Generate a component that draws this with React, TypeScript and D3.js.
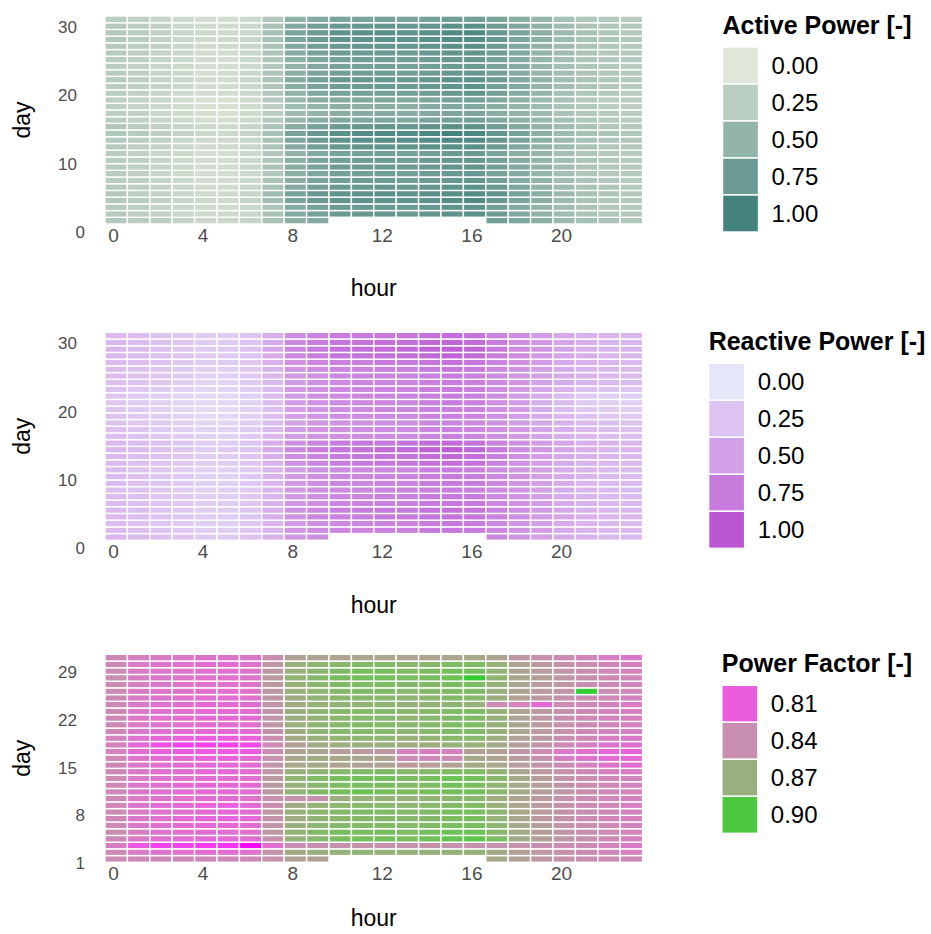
import React from "react";
import * as d3 from "d3";

// Hour of day (columns) and day of month (rows)
const HOURS: number[] = [0, 1, 2, 3, 4, 5, 6, 7, 8, 9, 10, 11, 12, 13, 14, 15, 16, 17, 18, 19, 20, 21, 22, 23];
const DAYS: number[] = [1, 2, 3, 4, 5, 6, 7, 8, 9, 10, 11, 12, 13, 14, 15, 16, 17, 18, 19, 20, 21, 22, 23, 24, 25, 26, 27, 28, 29, 30, 31];

const HOUR_TICKS = [0, 4, 8, 12, 16, 20];
const DAY_TICKS_POWER = [0, 10, 20, 30];
const DAY_TICKS_PF = [1, 8, 15, 22, 29];
const BREAKS_POWER = [0, 0.25, 0.5, 0.75, 1];
const BREAKS_PF = [0.81, 0.84, 0.87, 0.9];

const _ = null;

// Normalised active power, one row per day (day 1 first), 24 hourly values
const ACTIVE: (number | null)[][] = [
  [.30,.26,.22,.18,.15,.14,.18,.36,.55,.60,_,_,_,_,_,_,_,.72,.64,.55,.45,.38,.34,.31],
  [.28,.24,.20,.16,.12,.12,.17,.35,.60,.70,.76,.78,.80,.78,.80,.84,.86,.74,.62,.52,.42,.35,.31,.29],
  [.27,.23,.19,.15,.11,.11,.16,.33,.58,.68,.74,.76,.77,.75,.78,.82,.83,.72,.61,.50,.41,.34,.30,.28],
  [.30,.26,.21,.17,.13,.12,.18,.40,.66,.76,.82,.84,.85,.83,.85,.90,.92,.80,.66,.55,.44,.36,.32,.30],
  [.29,.25,.20,.16,.12,.12,.17,.42,.68,.78,.83,.85,.86,.84,.86,.88,.90,.82,.68,.56,.45,.37,.33,.30],
  [.27,.23,.19,.15,.11,.10,.16,.36,.60,.70,.77,.79,.80,.78,.80,.84,.85,.76,.64,.52,.42,.34,.31,.28],
  [.26,.22,.18,.14,.10,.10,.15,.33,.56,.66,.72,.74,.75,.73,.76,.80,.81,.71,.60,.50,.40,.33,.30,.27],
  [.25,.21,.17,.13,.10,.09,.14,.31,.54,.64,.70,.72,.73,.71,.74,.78,.79,.69,.59,.49,.39,.32,.29,.27],
  [.26,.22,.18,.14,.10,.10,.15,.34,.58,.68,.74,.76,.76,.75,.77,.81,.82,.72,.61,.51,.41,.33,.30,.28],
  [.26,.22,.18,.14,.10,.10,.15,.32,.56,.66,.72,.74,.75,.73,.76,.79,.80,.70,.60,.50,.40,.33,.30,.27],
  [.25,.21,.17,.13,.09,.09,.14,.30,.52,.62,.68,.70,.71,.69,.72,.76,.77,.67,.57,.48,.39,.32,.29,.27],
  [.27,.23,.19,.15,.11,.11,.16,.34,.60,.72,.79,.82,.83,.82,.85,.88,.87,.76,.63,.52,.42,.35,.31,.29],
  [.29,.25,.20,.16,.12,.12,.17,.36,.64,.76,.84,.86,.88,.87,.90,.94,.92,.80,.66,.55,.44,.36,.32,.30],
  [.31,.27,.22,.18,.14,.13,.19,.38,.66,.78,.86,.90,.92,.91,.94,1.0,.95,.82,.68,.56,.45,.37,.33,.31],
  [.30,.26,.21,.17,.13,.12,.18,.35,.60,.70,.77,.80,.81,.80,.83,.86,.85,.74,.62,.52,.42,.35,.31,.29],
  [.25,.21,.17,.13,.09,.08,.13,.28,.48,.57,.62,.64,.65,.63,.66,.70,.71,.62,.54,.46,.38,.31,.28,.26],
  [.24,.20,.16,.12,.08,.07,.12,.26,.44,.52,.57,.59,.60,.58,.61,.65,.66,.58,.51,.44,.36,.30,.27,.25],
  [.22,.18,.14,.10,.06,.06,.11,.24,.42,.50,.55,.56,.57,.55,.58,.62,.63,.56,.49,.42,.34,.28,.25,.23],
  [.23,.19,.15,.11,.07,.07,.12,.27,.46,.55,.60,.62,.63,.61,.64,.68,.69,.61,.53,.45,.36,.29,.26,.24],
  [.25,.21,.17,.13,.09,.09,.14,.30,.52,.62,.68,.70,.71,.70,.73,.78,.82,.70,.59,.49,.39,.32,.29,.26],
  [.26,.22,.18,.14,.10,.10,.15,.33,.57,.67,.74,.76,.77,.75,.78,.82,.85,.72,.61,.50,.40,.33,.30,.28],
  [.27,.23,.19,.15,.11,.10,.16,.34,.60,.70,.77,.79,.79,.77,.80,.84,.84,.74,.62,.51,.41,.34,.31,.28],
  [.26,.22,.18,.14,.10,.10,.15,.32,.56,.66,.72,.74,.75,.73,.76,.80,.80,.70,.60,.50,.40,.33,.30,.27],
  [.25,.21,.17,.13,.09,.09,.14,.30,.52,.62,.68,.70,.71,.69,.72,.76,.76,.67,.58,.48,.39,.32,.29,.26],
  [.26,.22,.18,.14,.10,.09,.15,.31,.54,.64,.70,.72,.73,.71,.74,.78,.78,.69,.59,.49,.39,.32,.29,.27],
  [.27,.23,.19,.15,.11,.10,.15,.33,.58,.68,.74,.76,.77,.75,.78,.82,.82,.72,.61,.50,.40,.33,.30,.28],
  [.28,.24,.20,.16,.12,.11,.16,.35,.62,.72,.78,.80,.81,.79,.82,.86,.86,.75,.63,.52,.42,.34,.31,.29],
  [.29,.25,.20,.16,.12,.12,.17,.37,.65,.75,.82,.84,.85,.83,.86,.90,.90,.78,.65,.54,.43,.35,.32,.30],
  [.29,.25,.21,.17,.13,.12,.17,.38,.66,.76,.83,.86,.87,.85,.88,.92,.93,.80,.66,.55,.44,.36,.32,.30],
  [.28,.24,.20,.16,.12,.11,.16,.36,.62,.72,.78,.80,.81,.79,.82,.86,.86,.75,.63,.52,.42,.34,.31,.29],
  [.25,.21,.17,.13,.10,.09,.14,.30,.52,.60,.65,.67,.68,.66,.69,.72,.72,.65,.57,.48,.38,.31,.28,.26],
];

// Normalised reactive power, same layout
const REACTIVE: (number | null)[][] = [
  [.34,.31,.28,.24,.21,.21,.26,.38,.56,.62,_,_,_,_,_,_,_,.66,.58,.50,.42,.37,.34,.32],
  [.31,.28,.25,.21,.18,.18,.23,.36,.57,.64,.68,.70,.72,.72,.76,.78,.76,.67,.59,.51,.43,.37,.34,.32],
  [.30,.27,.24,.20,.17,.17,.22,.35,.55,.62,.66,.68,.70,.70,.74,.76,.74,.66,.58,.50,.42,.36,.33,.31],
  [.32,.29,.26,.22,.19,.19,.24,.39,.60,.67,.71,.73,.75,.75,.79,.81,.79,.70,.61,.53,.44,.38,.35,.33],
  [.32,.29,.26,.22,.19,.18,.24,.40,.61,.68,.72,.74,.76,.76,.80,.82,.80,.71,.62,.53,.44,.38,.35,.33],
  [.31,.28,.25,.21,.18,.18,.23,.37,.58,.65,.69,.71,.73,.73,.77,.79,.77,.68,.60,.52,.43,.37,.34,.32],
  [.30,.27,.24,.20,.17,.17,.22,.35,.55,.62,.66,.68,.70,.70,.74,.76,.74,.66,.58,.50,.42,.36,.33,.31],
  [.29,.26,.23,.19,.16,.16,.21,.34,.54,.61,.65,.67,.69,.69,.72,.74,.73,.65,.57,.49,.41,.35,.32,.30],
  [.30,.27,.24,.20,.17,.17,.22,.36,.56,.63,.67,.69,.71,.71,.75,.77,.75,.67,.58,.50,.42,.36,.33,.31],
  [.30,.27,.24,.20,.17,.16,.22,.35,.55,.62,.66,.68,.70,.70,.74,.76,.74,.66,.58,.50,.42,.36,.33,.31],
  [.29,.26,.23,.19,.16,.16,.21,.34,.53,.60,.64,.66,.68,.68,.72,.74,.72,.64,.57,.49,.41,.35,.32,.30],
  [.31,.28,.25,.21,.18,.18,.23,.38,.60,.68,.73,.75,.77,.78,.82,.84,.81,.71,.61,.52,.43,.37,.34,.32],
  [.32,.29,.26,.22,.19,.19,.24,.40,.63,.71,.76,.78,.80,.81,.86,.88,.84,.73,.62,.53,.44,.38,.35,.33],
  [.33,.30,.27,.23,.20,.20,.25,.42,.66,.74,.79,.82,.85,.86,.92,.95,.88,.76,.64,.55,.46,.39,.36,.34],
  [.32,.29,.26,.22,.19,.19,.24,.39,.62,.70,.75,.77,.79,.80,.85,.86,.82,.72,.61,.52,.44,.38,.35,.33],
  [.28,.25,.22,.18,.15,.15,.20,.32,.52,.59,.62,.64,.66,.66,.70,.72,.70,.62,.55,.47,.39,.33,.30,.28],
  [.27,.24,.21,.17,.14,.14,.19,.31,.50,.57,.60,.62,.64,.64,.68,.70,.68,.61,.54,.46,.38,.32,.29,.27],
  [.26,.23,.20,.16,.13,.13,.18,.30,.49,.56,.59,.61,.63,.63,.67,.69,.67,.60,.53,.45,.37,.31,.28,.26],
  [.24,.21,.18,.14,.11,.11,.16,.29,.50,.58,.62,.64,.66,.66,.70,.72,.70,.61,.52,.42,.32,.25,.22,.21],
  [.23,.20,.17,.13,.10,.10,.15,.29,.51,.59,.63,.65,.67,.67,.71,.73,.71,.62,.52,.41,.30,.22,.19,.18],
  [.22,.19,.16,.12,.09,.09,.14,.29,.52,.60,.64,.66,.68,.68,.72,.74,.72,.62,.52,.40,.29,.20,.17,.16],
  [.23,.20,.17,.13,.10,.10,.15,.30,.53,.61,.65,.67,.69,.69,.73,.75,.73,.63,.53,.41,.30,.21,.18,.17],
  [.25,.22,.19,.15,.12,.12,.17,.31,.54,.61,.65,.67,.69,.69,.73,.75,.73,.64,.55,.45,.35,.28,.25,.23],
  [.28,.25,.22,.18,.15,.15,.20,.33,.54,.61,.65,.67,.69,.69,.72,.74,.72,.65,.57,.49,.41,.35,.32,.30],
  [.29,.26,.23,.19,.16,.16,.21,.34,.55,.62,.66,.68,.70,.70,.73,.75,.73,.65,.57,.49,.41,.35,.32,.30],
  [.30,.27,.24,.20,.17,.17,.22,.36,.57,.64,.68,.70,.72,.72,.76,.78,.76,.67,.59,.51,.42,.36,.33,.31],
  [.31,.28,.25,.21,.18,.18,.23,.38,.60,.67,.71,.73,.75,.75,.79,.81,.79,.69,.60,.52,.43,.37,.34,.32],
  [.33,.30,.27,.23,.20,.20,.25,.42,.66,.74,.79,.81,.83,.84,.88,.90,.87,.75,.64,.55,.46,.39,.36,.34],
  [.34,.31,.28,.24,.21,.21,.26,.44,.68,.76,.81,.84,.86,.87,.91,.93,.89,.77,.65,.56,.47,.40,.37,.35],
  [.33,.30,.27,.23,.20,.20,.25,.42,.66,.74,.79,.81,.83,.84,.88,.90,.87,.75,.64,.55,.46,.39,.36,.34],
  [.32,.29,.26,.22,.19,.19,.24,.39,.62,.70,.74,.76,.78,.78,.82,.84,.81,.71,.62,.53,.44,.38,.35,.33],
];

// Power factor, same layout
const POWER_FACTOR: (number | null)[][] = [
  [.838,.835,.835,.836,.835,.835,.836,.842,.855,.857,_,_,_,_,_,_,_,.862,.855,.848,.843,.840,.838,.836],
  [.836,.826,.822,.820,.818,.818,.820,.845,.866,.870,.872,.874,.873,.872,.872,.873,.872,.866,.855,.848,.842,.838,.834,.828],
  [.828,.808,.800,.800,.798,.796,.790,.818,.838,.840,.842,.843,.842,.842,.843,.842,.842,.842,.842,.840,.838,.836,.832,.825],
  [.835,.824,.820,.818,.816,.816,.818,.842,.872,.880,.886,.888,.888,.886,.889,.894,.896,.885,.866,.855,.846,.840,.835,.830],
  [.840,.828,.822,.820,.818,.818,.820,.848,.875,.882,.886,.886,.887,.884,.886,.890,.890,.880,.865,.853,.845,.840,.836,.832],
  [.836,.825,.820,.818,.815,.815,.818,.845,.870,.876,.880,.882,.882,.880,.882,.886,.886,.876,.862,.852,.845,.840,.835,.830],
  [.836,.824,.820,.816,.814,.814,.816,.843,.868,.874,.878,.880,.880,.878,.880,.884,.885,.872,.860,.850,.843,.838,.834,.830],
  [.838,.826,.822,.820,.817,.816,.818,.848,.872,.877,.881,.882,.883,.880,.882,.886,.886,.876,.862,.852,.844,.840,.836,.832],
  [.834,.822,.818,.815,.812,.812,.815,.840,.866,.872,.876,.878,.878,.876,.878,.882,.883,.872,.860,.850,.843,.838,.834,.828],
  [.836,.826,.822,.820,.818,.818,.820,.842,.842,.840,.868,.872,.874,.872,.874,.878,.878,.868,.858,.850,.842,.838,.834,.830],
  [.835,.824,.820,.818,.816,.816,.818,.850,.874,.882,.888,.892,.886,.884,.886,.888,.888,.878,.864,.854,.846,.840,.836,.832],
  [.834,.823,.820,.816,.814,.814,.816,.848,.872,.880,.884,.886,.885,.882,.884,.888,.886,.876,.862,.852,.844,.838,.834,.830],
  [.838,.826,.822,.820,.818,.818,.820,.850,.875,.882,.886,.888,.887,.884,.886,.890,.888,.878,.864,.853,.845,.840,.835,.832],
  [.836,.825,.820,.818,.816,.816,.818,.846,.870,.876,.880,.882,.882,.878,.880,.884,.884,.874,.860,.850,.842,.836,.830,.826],
  [.835,.824,.820,.818,.815,.815,.817,.845,.862,.864,.858,.856,.858,.850,.852,.856,.866,.862,.852,.845,.838,.830,.822,.818],
  [.834,.822,.818,.815,.812,.812,.815,.842,.862,.866,.862,.860,.858,.836,.835,.836,.862,.858,.850,.843,.828,.822,.818,.815],
  [.832,.818,.812,.810,.808,.808,.810,.838,.858,.860,.852,.850,.850,.830,.828,.830,.856,.855,.846,.838,.825,.820,.815,.812],
  [.830,.815,.805,.800,.800,.800,.802,.835,.855,.866,.868,.870,.870,.866,.868,.872,.872,.864,.852,.844,.835,.828,.822,.818],
  [.832,.820,.815,.812,.810,.810,.812,.840,.864,.870,.874,.876,.876,.872,.874,.878,.878,.868,.856,.848,.840,.833,.828,.824],
  [.835,.824,.820,.817,.815,.815,.817,.843,.868,.874,.878,.880,.880,.876,.878,.882,.882,.872,.860,.850,.842,.836,.832,.828],
  [.836,.826,.822,.820,.818,.818,.820,.846,.870,.876,.880,.882,.882,.878,.880,.884,.884,.873,.860,.850,.842,.837,.833,.830],
  [.835,.825,.821,.818,.816,.816,.818,.845,.868,.874,.878,.880,.880,.876,.878,.882,.882,.872,.858,.848,.840,.835,.832,.828],
  [.837,.826,.822,.820,.817,.817,.819,.846,.870,.875,.879,.881,.881,.877,.879,.883,.883,.872,.858,.849,.842,.836,.832,.829],
  [.836,.825,.820,.818,.816,.816,.818,.844,.866,.872,.874,.876,.876,.872,.874,.876,.872,.838,.832,.815,.838,.834,.830,.826],
  [.837,.826,.822,.820,.818,.818,.820,.846,.868,.874,.878,.880,.880,.876,.878,.882,.880,.868,.856,.848,.842,.838,.834,.830],
  [.838,.827,.823,.821,.819,.819,.821,.848,.870,.876,.880,.882,.882,.878,.880,.884,.882,.870,.858,.850,.845,.905,.838,.834],
  [.839,.828,.824,.822,.820,.820,.822,.850,.872,.878,.882,.884,.884,.880,.882,.886,.884,.872,.860,.852,.846,.840,.836,.832],
  [.840,.828,.824,.822,.820,.820,.822,.850,.874,.880,.885,.888,.888,.884,.886,.890,.905,.876,.862,.854,.846,.840,.836,.832],
  [.838,.827,.823,.821,.819,.819,.821,.848,.872,.878,.883,.886,.886,.882,.884,.888,.888,.874,.860,.852,.845,.840,.835,.831],
  [.837,.826,.822,.820,.818,.818,.820,.846,.870,.876,.880,.882,.882,.878,.880,.884,.884,.872,.858,.850,.843,.838,.833,.829],
  [.836,.830,.826,.824,.822,.822,.824,.840,.856,.858,.858,.860,.860,.858,.858,.860,.862,.858,.848,.842,.838,.834,.828,.824],
];

const FONT = "'Liberation Sans', Arial, Helvetica, sans-serif";

// Hour axis: shared by all three heatmaps
const HOUR_PX = 22.4;
const x = d3.scaleLinear().domain([0, 24]).range([113.5, 113.5 + 24 * HOUR_PX]);
const TILE_SHIFT_X = 0.38; // tile left edge sits this far before the hour value

const DAY_PX = 6.83;
const ROW_LO = 1.13; // day value at bottom edge of first row
const ROW_HI = 31.58; // day value at top edge of last row

const measureCtx = typeof document !== "undefined" ? document.createElement("canvas").getContext("2d") : null;
function textWidth(s: string, font: string): number {
  if (!measureCtx) return s.length * 12;
  measureCtx.font = font;
  return measureCtx.measureText(s).width;
}

type PanelProps = {
  top: number; // pixel y of the top tile edge
  rows: (number | null)[][];
  color: (v: number) => string;
  dayTicks: number[];
  title: string;
  breaks: number[];
  hourTitleY: number;
};

function Heatmap({ top, rows, color, dayTicks, title, breaks, hourTitleY }: PanelProps) {
  const y = d3.scaleLinear().domain([ROW_HI, ROW_HI - 30]).range([top, top + 30 * DAY_PX]);
  const rowBand = d3
    .scaleBand<number>()
    .domain([...DAYS].reverse())
    .range([y(ROW_HI), y(ROW_LO)])
    .padding(0);
  const tileW = x(1) - x(0);
  const bottom = y(ROW_LO);
  const cx = (x(-TILE_SHIFT_X) + x(24 - TILE_SHIFT_X)) / 2;

  const titleFont = `bold 25px ${FONT}`;
  const labelFont = `24px ${FONT}`;
  const keyW = 36;
  const keyH = 37;
  const blockW = Math.max(
    textWidth(title, titleFont),
    keyW + 13 + d3.max(breaks, (b) => textWidth(b.toFixed(2), labelFont))!
  );
  const legendLeft = 817 - blockW / 2;
  const keysTop = top + 31;

  return (
    <g>
      {rows.map((row, di) =>
        row.map((v, h) =>
          v == null ? null : (
            <rect
              key={`${di}-${h}`}
              x={x(HOURS[h] - TILE_SHIFT_X)}
              y={rowBand(DAYS[di])}
              width={tileW}
              height={rowBand.bandwidth()}
              fill={color(v)}
              stroke="#ffffff"
              strokeWidth={1.4}
            />
          )
        )
      )}
      {dayTicks.map((t) => (
        <text
          key={`yt${t}`}
          x={String(t).length === 1 ? 85 : 77}
          y={y(t)}
          dy="0.36em"
          textAnchor="end"
          fontFamily={FONT}
          fontSize={17}
          fill="#4d4d4d"
        >
          {t}
        </text>
      ))}
      {HOUR_TICKS.map((t) => (
        <text
          key={`xt${t}`}
          x={x(t)}
          y={top + 219}
          dy="0.36em"
          textAnchor="middle"
          fontFamily={FONT}
          fontSize={19}
          fill="#4d4d4d"
        >
          {t}
        </text>
      ))}
      <text x={cx} y={top + hourTitleY} dy="0.36em" textAnchor="middle" fontFamily={FONT} fontSize={23} fill="#000">
        hour
      </text>
      <text
        transform={`translate(${21.5},${(top + bottom) / 2}) rotate(-90)`}
        dy="0.36em"
        textAnchor="middle"
        fontFamily={FONT}
        fontSize={23}
        fill="#000"
      >
        day
      </text>
      <text x={legendLeft} y={top + 9} dy="0.36em" fontFamily={FONT} fontSize={25} fontWeight="bold" fill="#000">
        {title}
      </text>
      {breaks.map((b, i) => (
        <g key={`lg${b}`}>
          <rect
            x={legendLeft}
            y={keysTop + i * keyH}
            width={keyW}
            height={keyH}
            fill={color(b)}
            stroke="#ffffff"
            strokeWidth={1.4}
          />
          <text
            x={legendLeft + keyW + 13}
            y={keysTop + i * keyH + keyH / 2}
            dy="0.36em"
            fontFamily={FONT}
            fontSize={24}
            fill="#000"
          >
            {b.toFixed(2)}
          </text>
        </g>
      ))}
    </g>
  );
}

function flatExtent(rows: (number | null)[][]): [number, number] {
  const vals = rows.flat().filter((v): v is number => v != null);
  return [d3.min(vals)!, d3.max(vals)!];
}

export default function App() {
  const activeColor = d3
    .scaleLinear<string>()
    .domain(flatExtent(ACTIVE))
    .range(["#d7e1d2", "#44827e"])
    .interpolate(d3.interpolateLab);
  const reactiveColor = d3
    .scaleLinear<string>()
    .domain([0, 1])
    .range(["#e6e6fa", "#ba55d3"])
    .interpolate(d3.interpolateLab);
  const pfColor = d3
    .scaleLinear<string>()
    .domain(flatExtent(POWER_FACTOR))
    .range(["#ff00ff", "#32cd32"])
    .interpolate(d3.interpolateLab);

  return (
    <svg width={931} height={934} style={{ position: "fixed", left: 0, top: 0, display: "block" }}>
      <rect width={931} height={934} fill="#ffffff" />
      <Heatmap
        top={16}
        rows={ACTIVE}
        color={(v) => activeColor(v)}
        dayTicks={DAY_TICKS_POWER}
        title="Active Power [-]"
        breaks={BREAKS_POWER}
        hourTitleY={272}
      />
      <Heatmap
        top={332.3}
        rows={REACTIVE}
        color={(v) => reactiveColor(v)}
        dayTicks={DAY_TICKS_POWER}
        title="Reactive Power [-]"
        breaks={BREAKS_POWER}
        hourTitleY={272}
      />
      <Heatmap
        top={654.3}
        rows={POWER_FACTOR}
        color={(v) => pfColor(v)}
        dayTicks={DAY_TICKS_PF}
        title="Power Factor [-]"
        breaks={BREAKS_PF}
        hourTitleY={263}
      />
    </svg>
  );
}
